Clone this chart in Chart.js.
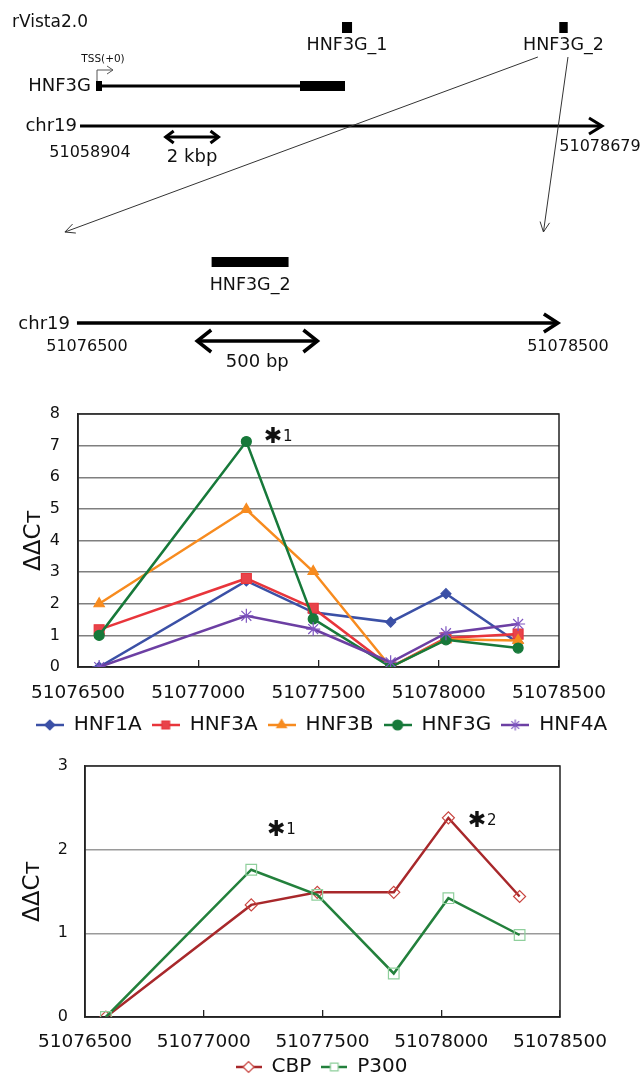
<!DOCTYPE html>
<html>
<head>
<meta charset="utf-8">
<script src="https://cdn.jsdelivr.net/npm/chart.js@4.4.1/dist/chart.umd.min.js"></script>
<style>
  html, body { margin: 0; padding: 0; background: #fff; overflow: hidden; }
  .panel { position: absolute; left: 0; width: 643px; }
  #mapBox { top: 0; height: 380px; }
  #tfBox { top: 392px; height: 353px; }
  #coBox { top: 740px; height: 347px; }
</style>
</head>
<body>
<div class="panel" id="mapBox"><canvas id="mapChart"></canvas></div>
<div class="panel" id="tfBox"><canvas id="tfChart"></canvas></div>
<div class="panel" id="coBox"><canvas id="coChart"></canvas></div>
<script>
// ---- locus map (chr19 coordinates, bp) ----
var chromStart = 51058904, chromEnd = 51078679;
var hnf3gGene = [51059510, 51068943];
var hnf3gExons = [[51059510, 51059737], [51067238, 51068943]];
var siteNames = ["HNF3G_1", "HNF3G_2"];
var siteFrom = [51068830, 51077060];
var siteTo = [51069210, 51077380];
var zoomStart = 51076500, zoomEnd = 51078500;
var kbpBar = [51062150, 51064150];
var bpBar = [51077000, 51077500];
// lines fanning out from the HNF3G_2 label into the zoomed region
var fanTop = [51076250, 51077390];
var fanBottom = [51076450, 51078440];

// ---- ChIP-qPCR amplicons ----
var ampliconPos = [51076588, 51077200, 51077478, 51077800, 51078030, 51078330];
var xTickValues = [51076500, 51077000, 51077500, 51078000, 51078500];

var hnf1a = [0, 2.72, 1.73, 1.42, 2.32, 0.76];
var hnf3a = [1.18, 2.80, 1.86, 0, 0.92, 1.04];
var hnf3b = [2.0, 4.98, 3.02, 0, 0.88, 0.84];
var hnf3g = [1.0, 7.13, 1.52, 0, 0.86, 0.60];
var hnf4a = [0, 1.62, 1.20, 0.15, 1.07, 1.36];

var cbp = [0, 1.34, 1.49, 1.49, 2.38, 1.44];
var p300 = [0, 1.76, 1.46, 0.52, 1.42, 0.98];

var tfNotes = [{ x: 51077311, y: 7.26, mark: "1" }];
var coNotes = [{ x: 51077305, y: 2.23, mark: "1" }, { x: 51078150, y: 2.34, mark: "2" }];

var FONT = '"DejaVu Sans"';
Chart.defaults.font.family = FONT;
Chart.defaults.color = "#111";

// track rows of the locus map (y axis runs top-down)
var rows = { site: 27.5, gene: 86, chrom: 126, kbp: 137, zoomSite: 262, zoomChrom: 323, bp: 341 };

function seg(from, to, row, axis, width) {
  return {
    data: [{ x: from, y: row }, { x: to, y: row }],
    xAxisID: axis, yAxisID: "y",
    borderColor: "#000", borderWidth: width, borderCapStyle: "butt",
    pointRadius: 0, fill: false, clip: false
  };
}

var mapSets = [
  seg(chromStart, chromEnd, rows.chrom, "xTop", 3),
  seg(hnf3gGene[0], hnf3gGene[1], rows.gene, "xTop", 3),
  seg(kbpBar[0], kbpBar[1], rows.kbp, "xTop", 3),
  seg(zoomStart, zoomEnd, rows.zoomChrom, "xBot", 3.5),
  seg(siteFrom[1], siteTo[1], rows.zoomSite, "xBot", 10),
  seg(bpBar[0], bpBar[1], rows.bp, "xBot", 3.5)
];
hnf3gExons.forEach(function(e) { mapSets.push(seg(e[0], e[1], rows.gene, "xTop", 10)); });
siteFrom.forEach(function(f, i) { mapSets.push(seg(f, siteTo[i], rows.site, "xTop", 11)); });

function chevron(ctx, tipX, y, dir, back, half, lw) {
  ctx.save();
  ctx.strokeStyle = "#000"; ctx.lineWidth = lw; ctx.lineJoin = "miter"; ctx.lineCap = "butt";
  ctx.beginPath();
  ctx.moveTo(tipX - dir * back, y - half);
  ctx.lineTo(tipX, y);
  ctx.lineTo(tipX - dir * back, y + half);
  ctx.stroke();
  ctx.restore();
}

function thinArrow(ctx, x1, y1, x2, y2, head) {
  var a = Math.atan2(y2 - y1, x2 - x1);
  ctx.save();
  ctx.strokeStyle = "#333"; ctx.lineWidth = 1;
  ctx.beginPath();
  ctx.moveTo(x1, y1); ctx.lineTo(x2, y2);
  ctx.moveTo(x2 - head * Math.cos(a - 0.45), y2 - head * Math.sin(a - 0.45));
  ctx.lineTo(x2, y2);
  ctx.lineTo(x2 - head * Math.cos(a + 0.45), y2 - head * Math.sin(a + 0.45));
  ctx.stroke();
  ctx.restore();
}

function label(ctx, str, x, y, size, align) {
  ctx.font = size + "px " + FONT;
  ctx.fillStyle = "#111";
  ctx.textAlign = align || "center";
  ctx.textBaseline = "middle";
  ctx.fillText(str, x, y);
}

var mapDecor = {
  id: "mapDecor",
  afterDatasetsDraw: function(chart) {
    var ctx = chart.ctx;
    var xt = function(v) { return chart.scales.xTop.getPixelForValue(v); };
    var xb = function(v) { return chart.scales.xBot.getPixelForValue(v); };
    var yy = function(v) { return chart.scales.y.getPixelForValue(v); };

    label(ctx, "rVista2.0", 12, 23, 17, "left");

    // full locus
    var cy = yy(rows.chrom);
    chevron(ctx, xt(chromEnd), cy, 1, 13, 8, 3);
    label(ctx, "chr19", xt(chromStart) - 3, cy, 18, "right");
    label(ctx, String(chromStart), xt(chromStart) + 10, cy + 27, 16);
    label(ctx, String(chromEnd), xt(chromEnd) - 2, cy + 21, 16);

    // gene model with TSS marker
    var gy = yy(rows.gene), tss = xt(hnf3gGene[0]) + 1;
    label(ctx, "HNF3G", xt(hnf3gGene[0]) - 5, gy, 18, "right");
    ctx.save();
    ctx.strokeStyle = "#555"; ctx.lineWidth = 1;
    ctx.beginPath();
    ctx.moveTo(tss, gy - 5); ctx.lineTo(tss, gy - 16); ctx.lineTo(tss + 16, gy - 16);
    ctx.moveTo(tss + 10, gy - 20); ctx.lineTo(tss + 16, gy - 16); ctx.lineTo(tss + 10, gy - 12);
    ctx.stroke();
    ctx.restore();
    label(ctx, "TSS(+0)", tss + 6, gy - 27, 10.5);

    // motif hits
    siteNames.forEach(function(n, i) {
      label(ctx, n, xt((siteFrom[i] + siteTo[i]) / 2), yy(rows.site) + 17.5, 17.5);
    });

    // 2 kbp scale bar
    var ky = yy(rows.kbp);
    chevron(ctx, xt(kbpBar[0]), ky, -1, 8, 6, 3);
    chevron(ctx, xt(kbpBar[1]), ky, 1, 8, 6, 3);
    label(ctx, "2 kbp", xt((kbpBar[0] + kbpBar[1]) / 2), ky + 20, 18);

    // fan into the zoomed window
    thinArrow(ctx, xt(fanTop[0]), 57, xb(fanBottom[0]), 232, 11);
    thinArrow(ctx, xt(fanTop[1]), 57, xb(fanBottom[1]), 232, 11);

    // zoomed window
    var zy = yy(rows.zoomChrom);
    chevron(ctx, xb(zoomEnd), zy, 1, 14, 9, 3.5);
    label(ctx, "chr19", xb(zoomStart) - 7, zy + 1, 18, "right");
    label(ctx, String(zoomStart), xb(zoomStart) + 10, zy + 24, 16);
    label(ctx, String(zoomEnd), xb(zoomEnd) + 10, zy + 24, 16);
    label(ctx, siteNames[1], xb((siteFrom[1] + siteTo[1]) / 2), yy(rows.zoomSite) + 23, 17.5);

    var by = yy(rows.bp);
    chevron(ctx, xb(bpBar[0]), by, -1, 14, 11, 3.5);
    chevron(ctx, xb(bpBar[1]), by, 1, 14, 11, 3.5);
    label(ctx, "500 bp", xb((bpBar[0] + bpBar[1]) / 2), by + 21, 18);
  }
};

new Chart(document.getElementById("mapChart"), {
  type: "line",
  data: { datasets: mapSets },
  options: {
    responsive: true, maintainAspectRatio: false, animation: false, events: [],
    layout: { padding: 0 },
    plugins: { legend: { display: false }, tooltip: { enabled: false } },
    scales: {
      xTop: { axis: "x", type: "linear", display: false, min: 51055873, max: 51080232 },
      xBot: { axis: "x", type: "linear", display: false, min: 51076180, max: 51078854 },
      y: { type: "linear", display: false, min: 0, max: 380, reverse: true }
    }
  },
  plugins: [mapDecor]
});

// ---- shared helpers for the two qPCR panels ----
var plotFrame = {
  id: "plotFrame",
  beforeDatasetsDraw: function(chart) {
    var a = chart.chartArea, ctx = chart.ctx;
    ctx.save();
    ctx.strokeStyle = "#222"; ctx.lineWidth = 1.5;
    ctx.strokeRect(a.left, a.top, a.right - a.left, a.bottom - a.top);
    ctx.restore();
  }
};

var starNotes = {
  id: "starNotes",
  afterDatasetsDraw: function(chart, args, opts) {
    var ctx = chart.ctx;
    (opts.notes || []).forEach(function(n) {
      var px = chart.scales.x.getPixelForValue(n.x);
      var py = chart.scales.y.getPixelForValue(n.y);
      ctx.save();
      ctx.fillStyle = "#111";
      ctx.textBaseline = "middle";
      ctx.textAlign = "center";
      ctx.font = "22px " + FONT;
      ctx.fillText("\u2731", px, py);
      ctx.textAlign = "left";
      ctx.font = "15px " + FONT;
      ctx.fillText(n.mark, px + 10, py);
      ctx.restore();
    });
  }
};

function legendIcon(lineColor, style, radius, fill, stroke, width) {
  var c = document.createElement("canvas");
  c.width = width; c.height = 18;
  var g = c.getContext("2d");
  g.strokeStyle = lineColor; g.lineWidth = 2.5;
  g.beginPath(); g.moveTo(0, 9); g.lineTo(width, 9); g.stroke();
  g.fillStyle = fill; g.strokeStyle = stroke; g.lineWidth = 1.2;
  if (Chart.helpers && Chart.helpers.drawPoint) {
    Chart.helpers.drawPoint(g, { pointStyle: style, radius: radius, borderWidth: 1.2, rotation: 0 }, width / 2, 9);
  } else {
    g.beginPath(); g.arc(width / 2, 9, radius, 0, Math.PI * 2); g.fill(); g.stroke();
  }
  return c;
}

function series(label, values, color, style, radius, fill, markColor) {
  return {
    label: label,
    data: ampliconPos.map(function(x, i) { return { x: x, y: values[i] }; }),
    borderColor: color, backgroundColor: fill, borderWidth: 2.5,
    pointStyle: style, pointRadius: radius,
    pointBorderColor: markColor || color, pointBackgroundColor: fill, pointBorderWidth: 1.2,
    tension: 0, fill: false
  };
}

function legendOpts(icons) {
  return {
    position: "bottom",
    labels: {
      usePointStyle: true, pointStyleWidth: icons[0].width, padding: 10,
      font: { family: FONT, size: 20 }, color: "#111",
      generateLabels: function(chart) {
        return chart.data.datasets.map(function(ds, i) {
          return { text: ds.label, pointStyle: icons[i], fillStyle: "rgba(0,0,0,0)", strokeStyle: "rgba(0,0,0,0)", lineWidth: 0, hidden: false, datasetIndex: i, fontColor: "#111" };
        });
      }
    }
  };
}

function xAxis(padding, height) {
  return {
    type: "linear", min: xTickValues[0], max: xTickValues[xTickValues.length - 1],
    afterBuildTicks: function(s) { s.ticks = xTickValues.map(function(v) { return { value: v }; }); },
    ticks: { callback: function(v) { return String(v); }, font: { size: 18.5 }, color: "#111", padding: padding, maxRotation: 0, autoSkip: false },
    grid: { drawOnChartArea: false, tickLength: -7, color: "#222", lineWidth: 1.3 },
    border: { color: "#222", width: 1.5 },
    afterFit: function(s) { s.height = height; }
  };
}

function yAxis(max, width, padding, titlePad, gridColor) {
  return {
    min: 0, max: max,
    ticks: { stepSize: 1, padding: padding, font: { size: 16 }, color: "#111" },
    grid: { drawTicks: false, color: gridColor, lineWidth: 1.4 },
    border: { color: "#222", width: 1.5 },
    title: { display: true, text: "\u0394\u0394C\u1d1b", font: { family: FONT, size: 23 }, color: "#111", padding: { top: titlePad, bottom: 0 } },
    // fixed width; the label gap must not push the plot top down
    afterFit: function(s) { s.width = width; s.paddingTop = 0; s.paddingBottom = 0; }
  };
}

// empty right-hand axis that reserves the margin, so the legend keeps the full width
function rightGutter(width) {
  return {
    position: "right", min: 0, max: 1,
    ticks: { display: false }, grid: { display: false, drawTicks: false }, border: { display: false },
    afterFit: function(s) { s.width = width; }
  };
}

// ---- transcription factor occupancy ----
var tfSets = [
  series("HNF1A", hnf1a, "#3b50a6", "rectRot", 5, "#3b50a6"),
  series("HNF3A", hnf3a, "#e8353b", "rect", 7, "#e8434a"),
  series("HNF3B", hnf3b, "#f78b1f", "triangle", 6, "#f78b1f"),
  series("HNF3G", hnf3g, "#17793a", "circle", 5, "#17793a"),
  series("HNF4A", hnf4a, "#6c3fa3", "star", 7, "#6c3fa3", "#7e55c0")
];
// later series sit on top
tfSets.forEach(function(ds, i) { ds.order = tfSets.length - i; });
var tfIcons = tfSets.map(function(ds) {
  return legendIcon(ds.borderColor, ds.pointStyle, Math.min(ds.pointRadius, 5.5), ds.pointBackgroundColor, ds.pointBorderColor, 28);
});

new Chart(document.getElementById("tfChart"), {
  type: "line",
  data: { datasets: tfSets },
  options: {
    responsive: true, maintainAspectRatio: false, animation: false, events: [],
    layout: { padding: { top: 22, right: 0, left: 0, bottom: 0 } },
    plugins: { legend: legendOpts(tfIcons), tooltip: { enabled: false }, starNotes: { notes: tfNotes } },
    scales: {
      x: xAxis(22, 38),
      y: yAxis(8, 78, 18, 20, "#7f7f7f"),
      gutter: rightGutter(84)
    }
  },
  plugins: [plotFrame, starNotes]
});

// ---- co-activator occupancy ----
var coSets = [
  series("CBP", cbp, "#a8282b", "rectRot", 6, "rgba(255,255,255,0)", "#c8443f"),
  series("P300", p300, "#23803c", "rect", 7.5, "rgba(255,255,255,0)", "#8fcf9c")
];
coSets.forEach(function(ds, i) { ds.order = coSets.length - i; });
var coIcons = coSets.map(function(ds) {
  return legendIcon(ds.borderColor, ds.pointStyle, 5.5, "#fff", ds.pointBorderColor, 26);
});

new Chart(document.getElementById("coChart"), {
  type: "line",
  data: { datasets: coSets },
  options: {
    responsive: true, maintainAspectRatio: false, animation: false, events: [],
    layout: { padding: { top: 26, right: 0, left: 0, bottom: 0 } },
    plugins: { legend: legendOpts(coIcons), tooltip: { enabled: false }, starNotes: { notes: coNotes } },
    scales: {
      x: xAxis(21, 30),
      y: yAxis(3, 85, 17, 19, "#9a9a9a"),
      gutter: rightGutter(83)
    }
  },
  plugins: [plotFrame, starNotes]
});
</script>
</body>
</html>
